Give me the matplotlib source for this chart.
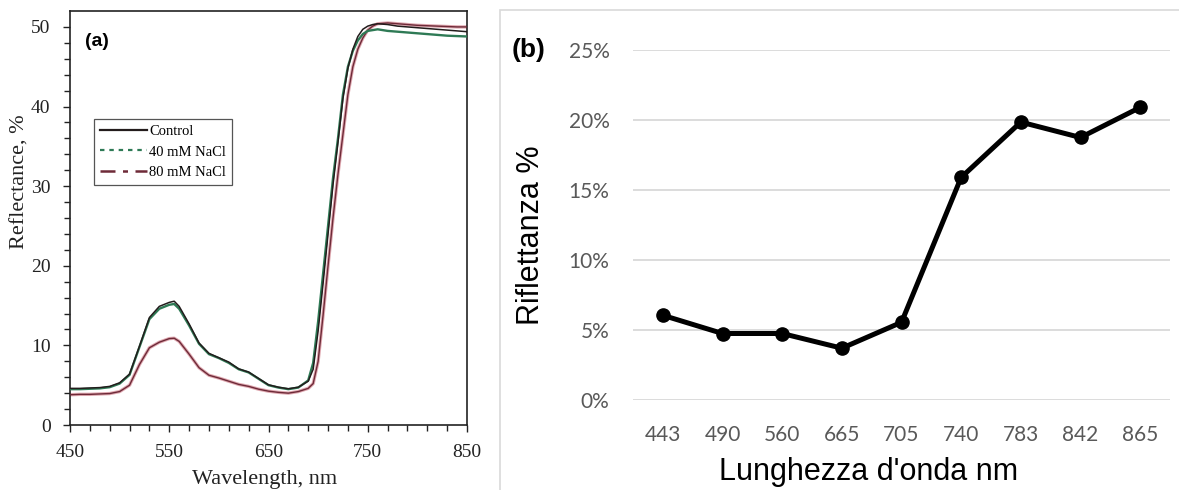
import matplotlib
matplotlib.use("Agg")
import matplotlib.pyplot as plt
from matplotlib.lines import Line2D
from matplotlib.patches import Rectangle
from matplotlib.ticker import FixedLocator, FuncFormatter

# ---------------- panel (a): leaf reflectance spectra ----------------
wavelength = [450, 460, 470, 480, 490, 500, 510, 520, 530, 540, 550, 555, 560,
              570, 580, 590, 600, 610, 620, 630, 640, 650, 660, 670, 680, 690,
              695, 700, 705, 710, 715, 720, 725, 730, 735, 740, 745, 750, 755,
              760, 770, 780, 790, 800, 810, 820, 830, 840, 850]

control = [4.6, 4.6, 4.65, 4.7, 4.85, 5.3, 6.4, 9.9, 13.5, 14.9, 15.4, 15.55, 14.9,
           12.7, 10.3, 9.0, 8.45, 7.9, 7.05, 6.65, 5.85, 5.05, 4.75, 4.55, 4.75, 5.5,
           7.0, 11.8, 17.8, 24.0, 30.2, 35.5, 41.0, 44.8, 47.2, 48.8, 49.7, 50.1, 50.3,
           50.4, 50.3, 50.1, 50.0, 49.9, 49.8, 49.7, 49.6, 49.5, 49.4]

nacl_40 = [4.5, 4.5, 4.55, 4.6, 4.75, 5.2, 6.3, 9.8, 13.3, 14.6, 15.1, 15.2, 14.6,
           12.5, 10.2, 8.9, 8.4, 7.8, 7.0, 6.6, 5.8, 5.0, 4.7, 4.5, 4.7, 5.6,
           7.8, 13.0, 19.0, 25.0, 31.0, 36.0, 41.5, 45.0, 47.0, 48.3, 49.1, 49.5, 49.6,
           49.7, 49.5, 49.4, 49.3, 49.2, 49.1, 49.0, 48.9, 48.85, 48.8]

nacl_80 = [3.8, 3.85, 3.85, 3.9, 3.95, 4.2, 5.0, 7.6, 9.7, 10.4, 10.85, 10.9, 10.5,
           8.9, 7.2, 6.25, 5.9, 5.5, 5.1, 4.85, 4.5, 4.25, 4.1, 4.0, 4.2, 4.6,
           5.2, 8.0, 13.8, 20.0, 26.0, 31.5, 36.5, 41.5, 45.0, 47.2, 48.6, 49.6, 50.1,
           50.4, 50.5, 50.4, 50.3, 50.2, 50.15, 50.1, 50.05, 50.0, 50.0]

series_labels = ["Control", "40 mM NaCl", "80 mM NaCl"]
wl_ticks = [450, 550, 650, 750, 850]

# ---------------- panel (b): band reflectance ----------------
bands = ["443", "490", "560", "665", "705", "740", "783", "842", "865"]
riflettanza = [6.05, 4.75, 4.75, 3.7, 5.55, 15.9, 19.85, 18.75, 20.9]

W, H = 1179, 490
fig = plt.figure(figsize=(W / 100, H / 100), dpi=100)

def box(x0, y0, x1, y1):
    """Pixel box (top-left origin) -> figure fraction rect."""
    return [x0 / W, 1 - y1 / H, (x1 - x0) / W, (y1 - y0) / H]

serif = "Liberation Serif"

# ---- panel (a)
axa = fig.add_axes(box(70, 11, 467, 425))
c_ctrl, c_40, c_80 = "#231c1c", "#2e7a55", "#6e2a38"
axa.plot(wavelength, nacl_80, color="#dfa8b0", lw=2.4, zorder=2)
axa.plot(wavelength, nacl_80, color=c_80, lw=1.0, zorder=3)
axa.plot(wavelength, nacl_40, color=c_40, lw=1.7, zorder=3)
axa.plot(wavelength, control, color=c_ctrl, lw=1.1, zorder=4)

axa.set_xlim(450, 850)
axa.set_ylim(0, 52)
axa.xaxis.set_major_locator(FixedLocator(wl_ticks))
axa.xaxis.set_minor_locator(FixedLocator(list(range(450, 851, 20))))
axa.yaxis.set_major_locator(FixedLocator([0, 10, 20, 30, 40, 50]))
axa.yaxis.set_minor_locator(FixedLocator(list(range(0, 52, 2))))
axa.tick_params(which="both", direction="out", top=False, right=False,
                width=1.0, colors="#222222")
axa.tick_params(which="major", length=5, pad=9, labelsize=14)
axa.tick_params(which="minor", length=4)
for lab in axa.get_xticklabels() + axa.get_yticklabels():
    lab.set_fontfamily(serif)
for sp in axa.spines.values():
    sp.set_linewidth(1.2)
    sp.set_color("#222222")

handles = [Line2D([], [], color=c_ctrl, lw=1.6, ls="-"),
           Line2D([], [], color=c_40, lw=1.6, ls=(0, (2, 2.2))),
           Line2D([], [], color=c_80, lw=1.8, ls=(0, (6, 3, 2, 3)))]
leg = axa.legend(handles, series_labels, loc="upper left",
                 bbox_to_anchor=((94 - 70) / 397, (425 - 119) / 414),
                 borderaxespad=0, fancybox=False, framealpha=1,
                 edgecolor="#555555", handlelength=3.2, handletextpad=0.2,
                 labelspacing=0.5, borderpad=0.4,
                 prop={"family": serif, "size": 10.5})
leg.get_frame().set_linewidth(0.9)

fig.text(85 / W, 1 - 42 / H, "(a)", fontsize=14, fontweight="bold",
         family="Liberation Sans", va="center", ha="left")
fig.text(20 / W, 1 - 182 / H, "Reflectance, %", rotation=90, fontsize=16,
         family=serif, ha="center", va="center", color="#222222")
fig.text(265 / W, 1 - 484 / H, "Wavelength, nm", fontsize=16,
         family=serif, ha="center", va="baseline", color="#222222")

# ---- panel (b)
fig.patches.append(Rectangle((500 / W, -0.1), 1.0, 1 - 10 / H + 0.1,
                             transform=fig.transFigure, fill=False,
                             edgecolor="#d9d9d9", lw=1.2, zorder=0))

axb = fig.add_axes(box(633, 50, 1170, 400))
xpos = list(range(len(bands)))
axb.plot(xpos, riflettanza, color="black", lw=3.6, marker="o",
         markersize=9.5, zorder=3, solid_capstyle="round")
axb.set_xlim(-0.5, len(bands) - 0.5)
axb.set_ylim(0, 25)
axb.set_yticks([0, 5, 10, 15, 20, 25])
axb.yaxis.set_major_formatter(FuncFormatter(lambda v, p: f"{v:.0f}%"))
axb.set_xticks(xpos)
axb.set_xticklabels(bands)
axb.grid(axis="y", color="#d9d9d9", lw=1.3, zorder=0)
axb.set_axisbelow(True)
for sp in axb.spines.values():
    sp.set_visible(False)
axb.tick_params(length=0, labelsize=15, labelcolor="#595959")
axb.tick_params(axis="y", pad=17)
axb.tick_params(axis="x", pad=18)
for lab in axb.get_xticklabels() + axb.get_yticklabels():
    lab.set_fontfamily("Lato")

fig.text(529 / W, 1 - 50 / H, "(b)", fontsize=19, fontweight="bold",
         family="Liberation Sans", ha="center", va="center")
fig.text(531 / W, 1 - 235 / H, "Riflettanza %", rotation=90, fontsize=22,
         family="Liberation Sans", ha="center", va="center")
fig.text(869 / W, 1 - 480 / H, "Lunghezza d'onda nm", fontsize=22,
         family="Liberation Sans", ha="center", va="baseline")

fig.savefig("out.png", dpi=100)
